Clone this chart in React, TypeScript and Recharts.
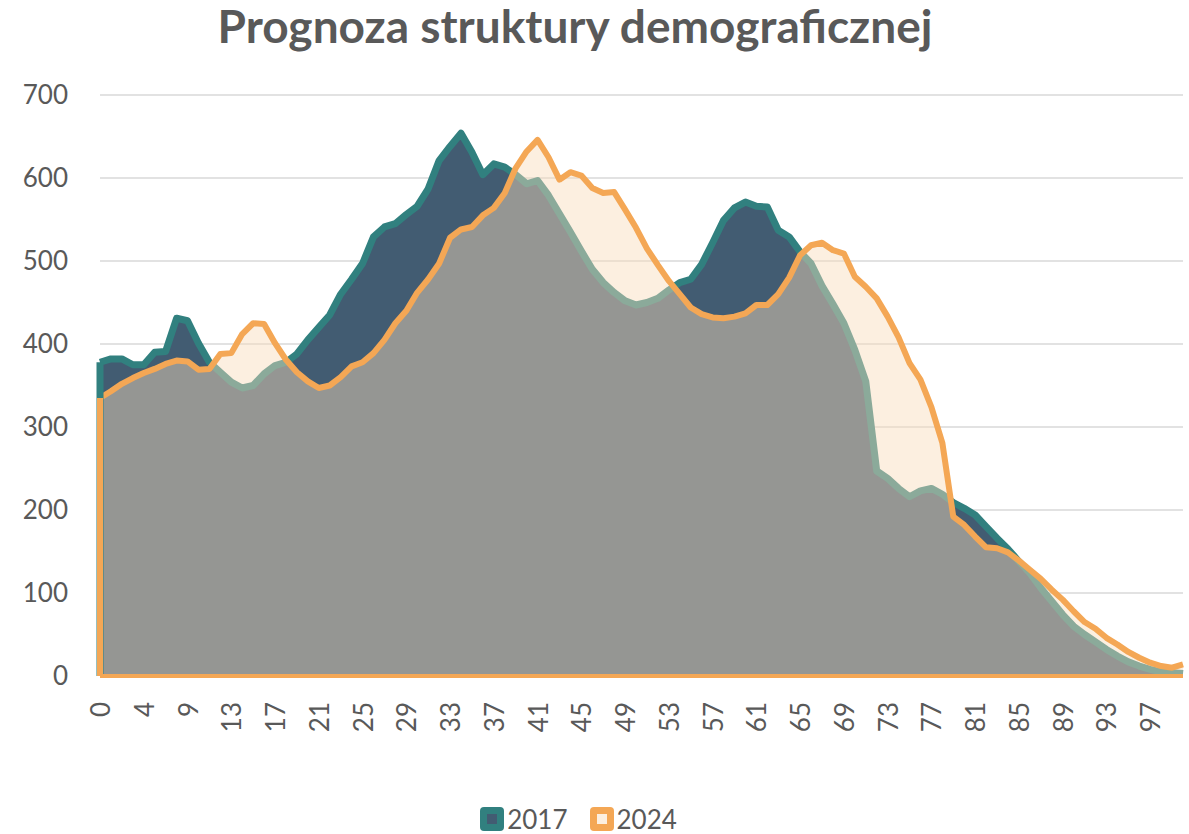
import React from "react";
import {
  AreaChart,
  Area,
  XAxis,
  YAxis,
  CartesianGrid,
  Legend,
  ReferenceLine,
} from "recharts";

// age categories (one year is missing in the source data between 7 and 9)
const ages = [
  0, 1, 2, 3, 4, 5, 6, 7, 9, 10, 11, 12, 13, 14, 15, 16, 17, 18, 19, 20,
  21, 22, 23, 24, 25, 26, 27, 28, 29, 30, 31, 32, 33, 34, 35, 36, 37, 38, 39, 40,
  41, 42, 43, 44, 45, 46, 47, 48, 49, 50, 51, 52, 53, 54, 55, 56, 57, 58, 59, 60,
  61, 62, 63, 64, 65, 66, 67, 68, 69, 70, 71, 72, 73, 74, 75, 76, 77, 78, 79, 80,
  81, 82, 83, 84, 85, 86, 87, 88, 89, 90, 91, 92, 93, 94, 95, 96, 97, 98, 99, 100,
];

const pop2017 = [
  378, 382, 382, 375, 375, 390, 391, 431, 428, 401, 378, 366, 354, 347, 350, 364, 374, 378, 388, 405,
  420, 435, 460, 478, 497, 529, 541, 545, 556, 566, 587, 621, 638, 654, 631, 604, 617, 613, 604, 593,
  597, 579, 557, 535, 512, 490, 474, 462, 452, 447, 450, 455, 465, 474, 478, 496, 522, 549, 564, 571,
  566, 565, 537, 529, 511, 497, 470, 448, 425, 393, 355, 247, 238, 226, 216, 223, 226, 219, 209, 202,
  194, 180, 166, 153, 138, 124, 106, 90, 74, 60, 50, 41, 32, 24, 17, 12, 8, 5, 4, 3,
];

const pop2024 = [
  335, 343, 352, 359, 365, 370, 376, 380, 379, 369, 370, 388, 389, 412, 425, 424, 401, 381, 366, 355,
  347, 350, 360, 373, 378, 389, 405, 425, 440, 462, 478, 497, 528, 538, 541, 555, 564, 582, 612, 632,
  646, 625, 598, 607, 603, 588, 582, 583, 562, 540, 515, 495, 476, 460, 444, 436, 432, 431, 433, 437,
  447, 447, 460, 480, 507, 519, 522, 513, 509, 481, 469, 455, 433, 408, 377, 357, 324, 281, 192, 182,
  168, 155, 154, 149, 139, 128, 117, 104, 92, 78, 65, 57, 46, 38, 29, 22, 16, 12, 10, 14,
];

const yTicks = [0, 100, 200, 300, 400, 500, 600, 700];

const TEAL = "#31807f";
const SLATE = "#425c72";
const ORANGE = "#f4a755";
const PEACH = "#f8dcbb";
const TEXT = "#595959";
const FONT = "Lato, 'Open Sans', sans-serif";

const data = ages.map((age, i) => ({
  age: String(age),
  y2017: pop2017[i],
  y2024: pop2024[i],
}));

const AgeTick = (props: any) => {
  const { x, y, payload } = props;
  return (
    <text
      x={x}
      y={y}
      transform={`rotate(-90, ${x}, ${y})`}
      textAnchor="end"
      dominantBaseline="central"
      fill={TEXT}
      fontSize={26}
      fontFamily={FONT}
    >
      {payload.value}
    </text>
  );
};

const legendItems = [
  { name: "2017", border: TEAL, inner: SLATE },
  { name: "2024", border: ORANGE, inner: "#fcefe0" },
];

const LegendBox = () => (
  <div
    style={{
      display: "flex",
      justifyContent: "center",
      alignItems: "center",
      gap: 22,
      height: 44,
      paddingTop: 14,
      paddingRight: 26,
      boxSizing: "border-box",
      fontFamily: FONT,
      fontSize: 26,
      color: TEXT,
    }}
  >
    {legendItems.map((item) => (
      <div key={item.name} style={{ display: "flex", alignItems: "center", gap: 3 }}>
        <div
          style={{
            width: 24,
            height: 24,
            borderRadius: 4,
            background: item.border,
            display: "flex",
            alignItems: "center",
            justifyContent: "center",
          }}
        >
          <div style={{ width: 10, height: 10, background: item.inner }} />
        </div>
        <span>{item.name}</span>
      </div>
    ))}
  </div>
);

export default function App() {
  return (
    <div
      style={{
        position: "absolute",
        left: 0,
        top: 0,
        width: 1189,
        height: 834,
        background: "#fff",
      }}
    >
      <div
        style={{
          position: "absolute",
          left: 0,
          top: -2,
          width: 1150,
          textAlign: "center",
          fontFamily: FONT,
          fontWeight: 700,
          fontSize: 46,
          color: TEXT,
          zIndex: 1,
        }}
      >
        Prognoza struktury demograficznej
      </div>
      <AreaChart
        width={1189}
        height={834}
        data={data}
        margin={{ top: 95, right: 6, left: 0, bottom: 0 }}
      >
        <CartesianGrid vertical={false} stroke="#d9d9d9" strokeWidth={1.5} />
        <XAxis
          dataKey="age"
          interval={3}
          axisLine={false}
          tickLine={false}
          height={114}
          tickMargin={20}
          tick={<AgeTick />}
        />
        <YAxis
          domain={[0, 700]}
          ticks={yTicks}
          width={100}
          axisLine={false}
          tickLine={false}
          tickMargin={26}
          tick={{ fill: TEXT, fontSize: 26, fontFamily: FONT }}
        />
        <Area
          type="linear"
          dataKey="y2017"
          name="2017"
          stroke={TEAL}
          strokeWidth={7}
          strokeLinejoin="round"
          fill={SLATE}
          fillOpacity={1}
          isAnimationActive={false}
          dot={false}
          activeDot={false}
        />
        <ReferenceLine
          segment={[
            { x: data[0].age, y: 0 },
            { x: data[0].age, y: pop2017[0] },
          ]}
          stroke={TEAL}
          strokeWidth={7}
        />
        <Area
          type="linear"
          dataKey="y2024"
          name="2024"
          stroke={ORANGE}
          strokeWidth={6}
          strokeLinejoin="round"
          fill={PEACH}
          fillOpacity={0.455}
          isAnimationActive={false}
          dot={false}
          activeDot={false}
        />
        <ReferenceLine
          segment={[
            { x: data[0].age, y: 0 },
            { x: data[0].age, y: pop2024[0] },
          ]}
          stroke={ORANGE}
          strokeWidth={6}
        />
        <ReferenceLine y={0} stroke={ORANGE} strokeWidth={4} />
        <Legend verticalAlign="bottom" content={<LegendBox />} />
      </AreaChart>
    </div>
  );
}
